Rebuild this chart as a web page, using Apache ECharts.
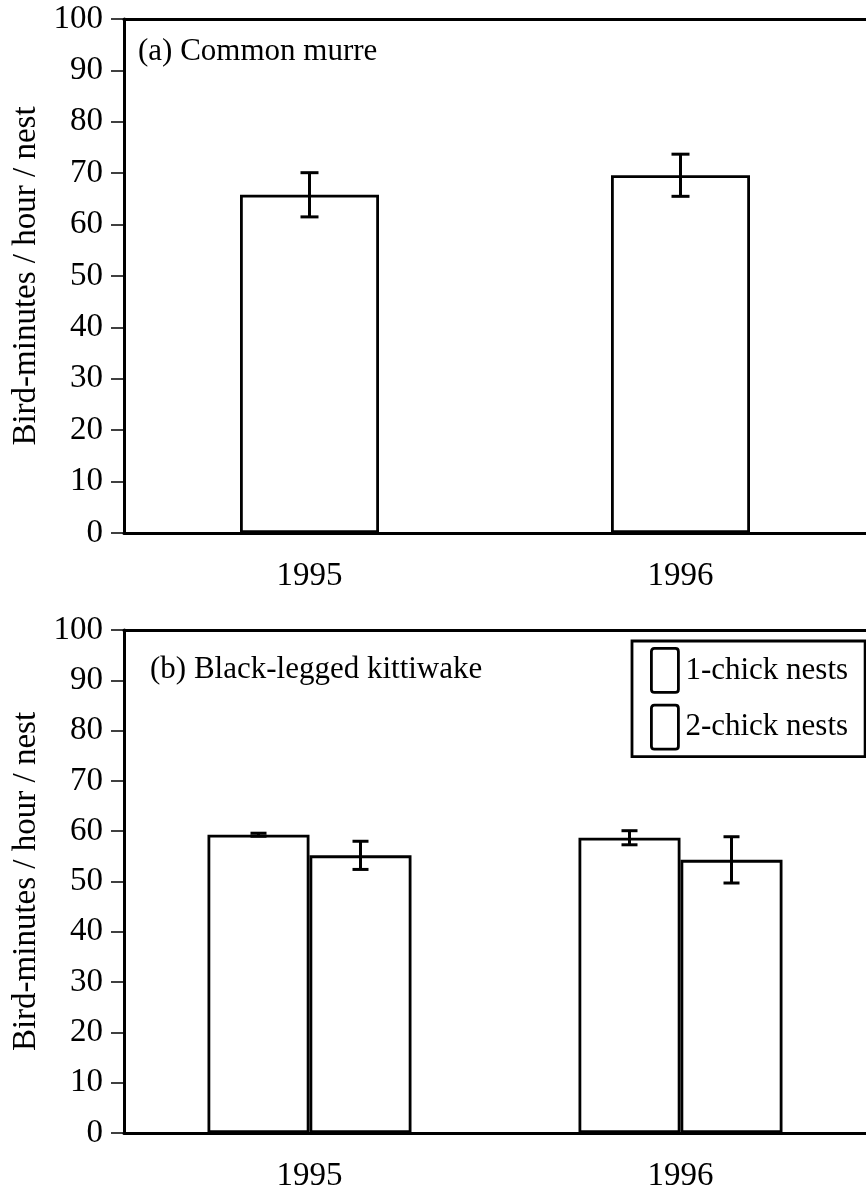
<!DOCTYPE html>
<html>
<head>
<meta charset="utf-8">
<script src="https://cdn.jsdelivr.net/npm/echarts@6/dist/echarts.min.js"></script>
<style>
  html, body { margin: 0; padding: 0; background: #fff; }
  #main { width: 866px; height: 1193px; }
</style>
</head>
<body>
<div id="main"></div>
<script>
// data
var years = ['1995', '1996'];
var murreMean = [65.8, 69.6];
var murreErr = [4.3, 4.1];
var oneChickMean = [59.3, 58.7];
var oneChickErr = [0.3, 1.4];
var twoChickMean = [55.2, 54.3];
var twoChickErr = [2.8, 4.6];
var legendNames = ['1-chick nests', '2-chick nests'];

var FONT = '"Liberation Serif", "DejaVu Serif", serif';
var murreBarW = 139;
var kittiBarW = 102;

function errData(mean, err) {
  return mean.map(function (m, i) { return [i, m - err[i], m + err[i]]; });
}

// draws the I-shaped error bar, shifted sideways for grouped bars
function errorBar(shift, capHalf) {
  return function (params, api) {
    var x = api.value(0);
    var lo = api.coord([x, api.value(1)]);
    var hi = api.coord([x, api.value(2)]);
    var cx = lo[0] + shift;
    var st = { stroke: '#000', lineWidth: 3 };
    return {
      type: 'group',
      children: [
        { type: 'line', shape: { x1: cx, y1: hi[1], x2: cx, y2: lo[1] }, style: st },
        { type: 'line', shape: { x1: cx - capHalf, y1: hi[1], x2: cx + capHalf, y2: hi[1] }, style: st },
        { type: 'line', shape: { x1: cx - capHalf, y1: lo[1], x2: cx + capHalf, y2: lo[1] }, style: st }
      ]
    };
  };
}

function yAxisFor(gi) {
  return {
    type: 'value', gridIndex: gi, min: 0, max: 100, interval: 10,
    name: 'Bird-minutes / hour / nest', nameLocation: 'middle', nameGap: 70,
    nameTextStyle: { fontFamily: FONT, fontSize: 33, color: '#000' },
    axisLine: { show: true, lineStyle: { color: '#000', width: 3 } },
    axisTick: { show: true, length: 13, lineStyle: { color: '#000', width: 1.5 } },
    axisLabel: { margin: 21, fontFamily: FONT, fontSize: 33, color: '#000' },
    splitLine: { show: false }
  };
}

function xAxisFor(gi) {
  return {
    type: 'category', gridIndex: gi, data: years,
    axisLine: { lineStyle: { color: '#000', width: 3 } },
    axisTick: { alignWithLabel: true, length: 14, lineStyle: { color: '#000', width: 1.5 } },
    axisLabel: { margin: 27, fontFamily: FONT, fontSize: 33, color: '#000' }
  };
}

// top frame line of each panel
function topAxisFor(gi) {
  return {
    type: 'category', gridIndex: gi, data: years, position: 'top',
    axisLine: { lineStyle: { color: '#000', width: 3 } },
    axisTick: { show: false }, axisLabel: { show: false }
  };
}

var barStyle = { color: '#fff', borderColor: '#000', borderWidth: 2.8 };

var chart = echarts.init(document.getElementById('main'));
chart.setOption({
  backgroundColor: '#fff',
  animation: false,
  title: [
    { text: '(a) Common murre', left: 133, top: 31,
      textStyle: { fontFamily: FONT, fontSize: 31, fontWeight: 'normal', color: '#000' } },
    { text: '(b) Black-legged kittiwake', left: 145, top: 649,
      textStyle: { fontFamily: FONT, fontSize: 31, fontWeight: 'normal', color: '#000' } }
  ],
  legend: {
    data: legendNames, orient: 'vertical', left: 632, top: 641,
    icon: 'path://M3,0 L24,0 Q27,0 27,3 L27,41 Q27,44 24,44 L3,44 Q0,44 0,41 L0,3 Q0,0 3,0 Z',
    itemWidth: 27, itemHeight: 44, itemGap: 10,
    padding: [6, 17, 6, 18],
    borderColor: '#000', borderWidth: 2.8, backgroundColor: '#fff',
    textStyle: { fontFamily: FONT, fontSize: 31, color: '#000', padding: [0, 0, 0, 2] },
    itemStyle: { color: '#fff', borderColor: '#000', borderWidth: 2.8 }
  },
  grid: [
    { left: 124, width: 751, top: 19, height: 514 },
    { left: 124, width: 751, top: 630, height: 505 }
  ],
  xAxis: [xAxisFor(0), topAxisFor(0), xAxisFor(1), topAxisFor(1)],
  yAxis: [yAxisFor(0), yAxisFor(1)],
  series: [
    { name: 'Common murre', type: 'bar', xAxisIndex: 0, yAxisIndex: 0,
      barWidth: murreBarW, itemStyle: barStyle, data: murreMean },
    { type: 'custom', xAxisIndex: 0, yAxisIndex: 0, z: 5,
      renderItem: errorBar(0, 9), data: errData(murreMean, murreErr) },
    { name: legendNames[0], type: 'bar', xAxisIndex: 2, yAxisIndex: 1,
      barWidth: kittiBarW, barGap: '0%', itemStyle: barStyle, data: oneChickMean },
    { name: legendNames[1], type: 'bar', xAxisIndex: 2, yAxisIndex: 1,
      barWidth: kittiBarW, barGap: '0%', itemStyle: barStyle, data: twoChickMean },
    { type: 'custom', xAxisIndex: 2, yAxisIndex: 1, z: 5,
      renderItem: errorBar(-kittiBarW / 2, 8), data: errData(oneChickMean, oneChickErr) },
    { type: 'custom', xAxisIndex: 2, yAxisIndex: 1, z: 5,
      renderItem: errorBar(kittiBarW / 2, 8), data: errData(twoChickMean, twoChickErr) }
  ]
});
</script>
</body>
</html>
